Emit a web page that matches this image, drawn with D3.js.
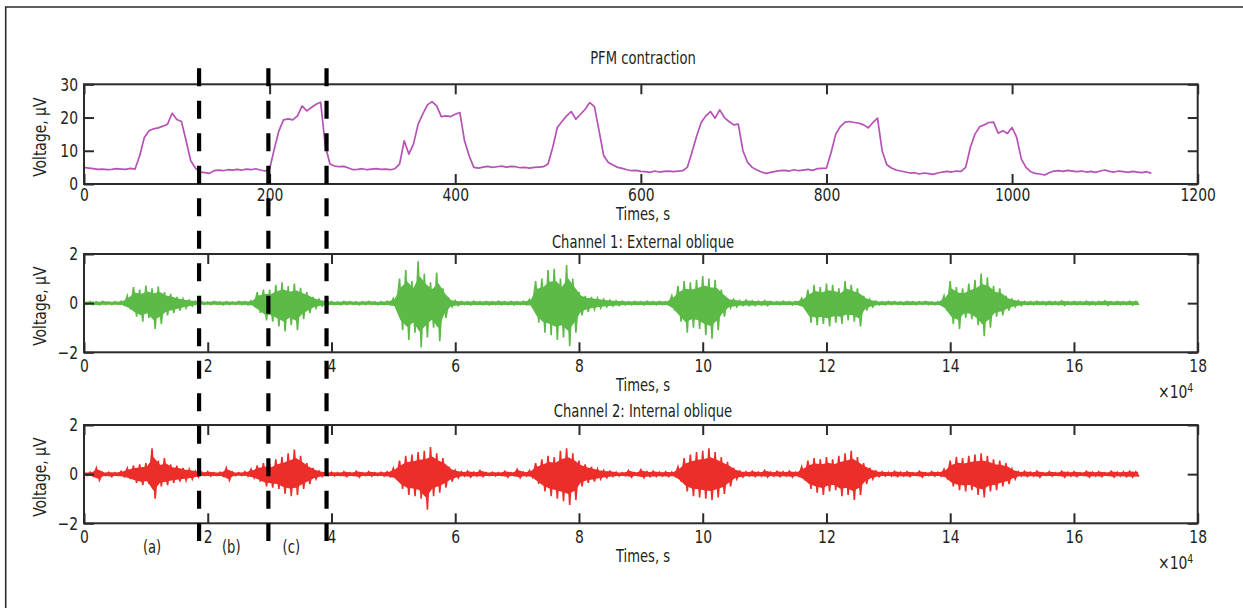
<!DOCTYPE html>
<html>
<head>
<meta charset="utf-8">
<script src="https://cdn.jsdelivr.net/npm/d3@7/dist/d3.min.js"></script>
<style>
  body { margin: 0; background: #fff; }
  svg text {
    font-family: "DejaVu Sans Condensed", "DejaVu Sans", sans-serif;
    font-stretch: condensed;
    fill: #231f20;
  }
</style>
</head>
<body>
<svg id="chart" width="1243" height="608"></svg>
<script>
// PFM contraction, voltage (uV) every 5 s from 0 to 1150 s
const pfmStep = 5;
const pfmVolt = [
  5.0, 4.8, 4.6, 4.4, 4.5, 4.3, 4.4, 4.6, 4.5, 4.4,
  4.7, 4.5, 8.5, 14.0, 16.0, 16.6, 16.9, 17.4, 18.0, 21.3,
  19.4, 18.8, 13.0, 7.0, 4.8, 3.6, 3.4, 3.2, 4.0, 4.2,
  4.0, 4.3, 4.2, 4.4, 4.2, 4.5, 4.3, 4.6, 4.2, 3.9,
  4.5, 10.5, 16.0, 19.3, 19.6, 19.3, 20.5, 23.5, 22.0, 23.0,
  24.0, 24.6, 11.5, 6.0, 5.4, 5.2, 5.3, 4.8, 4.3, 4.4,
  4.6, 4.3, 4.5, 4.6, 4.4, 4.5, 4.3, 4.6, 6.0, 13.0,
  9.0, 12.0, 18.0, 21.0, 23.8, 24.8, 23.5, 20.3, 20.5, 20.3,
  21.0, 21.5, 13.0, 8.5, 5.0, 4.8, 5.1, 5.3, 5.0, 5.2,
  5.4, 5.1, 5.3, 5.2, 4.9, 5.0, 4.8, 5.0, 5.1, 5.2,
  6.0, 11.0, 17.0, 18.8, 20.5, 21.8, 19.5, 21.0, 22.5, 24.5,
  23.3, 16.0, 8.5, 6.5, 5.7, 5.0, 4.7, 4.3, 4.0, 4.1,
  3.8, 3.7, 3.5, 3.9, 3.6, 3.8, 3.9, 3.7, 3.9, 4.0,
  5.0, 9.5, 14.3, 18.5, 20.5, 21.8, 19.8, 22.3, 20.0, 18.8,
  17.8, 18.0, 10.0, 6.5, 5.0, 4.2, 3.6, 3.2, 3.5, 3.8,
  4.0, 4.1, 3.9, 4.3, 4.0, 4.2, 4.4, 4.1, 4.6, 4.7,
  4.8, 9.5, 15.0, 17.3, 18.6, 18.8, 18.5, 18.3, 17.8, 16.9,
  18.5, 19.8, 10.0, 5.8, 4.8, 4.2, 3.9, 3.6, 3.3, 3.4,
  3.0, 3.3, 3.1, 2.9, 3.3, 3.6, 3.8, 3.6, 3.9, 3.8,
  5.0, 11.0, 15.0, 17.2, 17.8, 18.5, 18.6, 15.3, 16.0, 15.2,
  17.0, 14.0, 7.5, 5.0, 3.7, 3.2, 3.0, 2.7, 3.4, 3.9,
  4.0, 3.8, 4.1, 3.9, 3.7, 3.9, 3.6, 3.8, 3.5, 3.9,
  4.2, 3.8, 3.6, 3.9, 3.7, 3.5, 3.8, 3.6, 3.4, 3.7,
  3.2
];

// EMG envelopes (max / min per 0.1 x10^4 bin, 0.0 .. 17.0)
const emgStep = 0.1;
const ch1Max = [
  0.05, 0.06, 0.05, 0.07, 0.05, 0.06, 0.08, 0.30, 0.65, 0.55,
  0.72, 0.60, 0.68, 0.45, 0.38, 0.25, 0.18, 0.12, 0.08, 0.06,
  0.05, 0.07, 0.05, 0.06, 0.05, 0.07, 0.06, 0.10, 0.45, 0.55,
  0.55, 0.75, 0.85, 0.70, 0.80, 0.62, 0.45, 0.25, 0.15, 0.08,
  0.06, 0.05, 0.07, 0.06, 0.05, 0.06, 0.07, 0.05, 0.06, 0.08,
  0.20, 1.00, 1.35, 0.90, 1.70, 1.20, 0.85, 1.25, 0.60, 0.15,
  0.10, 0.07, 0.06, 0.08, 0.06, 0.07, 0.06, 0.08, 0.06, 0.07,
  0.06, 0.08, 0.15, 0.90, 1.00, 1.35, 1.40, 1.00, 1.55, 1.00,
  0.45, 0.30, 0.25, 0.20, 0.15, 0.12, 0.10, 0.08, 0.06, 0.07,
  0.06, 0.08, 0.06, 0.07, 0.06, 0.30, 0.70, 0.90, 0.85, 0.95,
  1.10, 1.00, 0.95, 0.55, 0.20, 0.15, 0.10, 0.12, 0.10, 0.08,
  0.10, 0.07, 0.06, 0.08, 0.06, 0.07, 0.20, 0.55, 0.75, 0.65,
  0.80, 0.75, 0.60, 0.90, 0.75, 0.60, 0.30, 0.15, 0.08, 0.06,
  0.07, 0.06, 0.05, 0.07, 0.06, 0.06, 0.07, 0.05, 0.06, 0.30,
  0.90, 0.65, 0.60, 0.80, 0.95, 1.20, 1.05, 0.70, 0.60, 0.30,
  0.15, 0.10, 0.07, 0.06, 0.08, 0.06, 0.07, 0.06, 0.09, 0.06,
  0.07, 0.06, 0.08, 0.06, 0.07, 0.09, 0.06, 0.07, 0.06, 0.08,
  0.07
];
const ch1Min = [
  -0.05, -0.06, -0.07, -0.05, -0.06, -0.05, -0.08, -0.25, -0.55, -0.75,
  -0.60, -1.05, -0.85, -0.50, -0.40, -0.30, -0.20, -0.12, -0.08, -0.05,
  -0.06, -0.05, -0.07, -0.06, -0.05, -0.06, -0.07, -0.10, -0.40, -0.70,
  -0.75, -0.95, -1.15, -0.90, -1.10, -0.65, -0.40, -0.20, -0.12, -0.08,
  -0.05, -0.07, -0.06, -0.05, -0.07, -0.06, -0.05, -0.07, -0.06, -0.07,
  -0.15, -1.10, -1.50, -1.20, -1.80, -1.40, -1.00, -1.55, -0.60, -0.15,
  -0.10, -0.06, -0.08, -0.06, -0.07, -0.08, -0.06, -0.07, -0.06, -0.08,
  -0.06, -0.07, -0.10, -0.80, -1.20, -1.30, -1.50, -1.40, -1.75, -1.20,
  -0.50, -0.35, -0.25, -0.20, -0.15, -0.12, -0.10, -0.08, -0.07, -0.06,
  -0.08, -0.06, -0.07, -0.06, -0.07, -0.30, -0.75, -1.20, -1.00, -1.05,
  -1.30, -1.45, -1.10, -0.55, -0.20, -0.15, -0.10, -0.10, -0.10, -0.08,
  -0.10, -0.06, -0.07, -0.06, -0.08, -0.06, -0.20, -0.80, -0.90, -0.85,
  -0.95, -0.80, -0.85, -0.70, -0.75, -0.95, -0.30, -0.15, -0.08, -0.07,
  -0.06, -0.05, -0.07, -0.06, -0.07, -0.05, -0.06, -0.07, -0.06, -0.30,
  -0.85, -1.05, -0.60, -0.65, -0.90, -1.35, -1.00, -0.55, -0.50, -0.30,
  -0.15, -0.10, -0.06, -0.07, -0.06, -0.08, -0.06, -0.07, -0.09, -0.06,
  -0.07, -0.06, -0.08, -0.07, -0.06, -0.09, -0.06, -0.07, -0.06, -0.08,
  -0.07
];
const ch2Max = [
  0.06, 0.08, 0.25, 0.06, 0.08, 0.06, 0.12, 0.25, 0.35, 0.40,
  0.45, 1.05, 0.55, 0.65, 0.40, 0.35, 0.25, 0.20, 0.12, 0.08,
  0.10, 0.06, 0.08, 0.25, 0.08, 0.06, 0.10, 0.20, 0.35, 0.45,
  0.40, 0.60, 0.70, 0.85, 1.00, 0.75, 0.45, 0.25, 0.12, 0.06,
  0.08, 0.06, 0.10, 0.06, 0.12, 0.06, 0.10, 0.06, 0.08, 0.10,
  0.25, 0.55, 0.75, 0.80, 0.90, 0.95, 1.10, 0.85, 0.65, 0.30,
  0.15, 0.10, 0.12, 0.08, 0.15, 0.06, 0.08, 0.06, 0.12, 0.06,
  0.20, 0.08, 0.15, 0.45, 0.60, 0.75, 0.70, 0.95, 1.05, 0.85,
  0.55, 0.40, 0.30, 0.20, 0.15, 0.12, 0.08, 0.06, 0.15, 0.06,
  0.18, 0.10, 0.12, 0.08, 0.10, 0.08, 0.30, 0.65, 0.80, 0.90,
  0.95, 1.05, 0.90, 0.70, 0.50, 0.25, 0.12, 0.10, 0.12, 0.08,
  0.15, 0.08, 0.12, 0.10, 0.12, 0.08, 0.30, 0.55, 0.65, 0.60,
  0.70, 0.60, 0.75, 0.85, 0.95, 0.70, 0.45, 0.25, 0.12, 0.10,
  0.08, 0.12, 0.08, 0.10, 0.06, 0.12, 0.06, 0.10, 0.08, 0.20,
  0.55, 0.70, 0.65, 0.75, 0.80, 0.85, 0.75, 0.60, 0.55, 0.45,
  0.20, 0.10, 0.12, 0.08, 0.12, 0.06, 0.10, 0.06, 0.12, 0.08,
  0.10, 0.06, 0.12, 0.08, 0.10, 0.06, 0.12, 0.08, 0.10, 0.12,
  0.10
];
const ch2Min = [
  -0.06, -0.08, -0.25, -0.06, -0.10, -0.06, -0.10, -0.20, -0.35, -0.45,
  -0.40, -1.00, -0.50, -0.45, -0.35, -0.30, -0.25, -0.20, -0.12, -0.06,
  -0.08, -0.06, -0.08, -0.25, -0.06, -0.06, -0.08, -0.15, -0.30, -0.50,
  -0.55, -0.60, -0.80, -0.90, -0.85, -0.60, -0.40, -0.20, -0.10, -0.06,
  -0.08, -0.06, -0.10, -0.06, -0.12, -0.06, -0.08, -0.06, -0.08, -0.10,
  -0.20, -0.60, -0.85, -0.90, -1.00, -1.45, -0.90, -0.75, -0.55, -0.30,
  -0.15, -0.08, -0.12, -0.08, -0.10, -0.06, -0.08, -0.06, -0.12, -0.06,
  -0.15, -0.08, -0.12, -0.40, -0.70, -0.90, -1.00, -1.10, -1.25, -1.05,
  -0.50, -0.35, -0.30, -0.20, -0.15, -0.10, -0.08, -0.06, -0.12, -0.06,
  -0.15, -0.10, -0.10, -0.08, -0.10, -0.08, -0.30, -0.70, -0.90, -0.95,
  -1.00, -1.05, -0.95, -0.80, -0.50, -0.20, -0.12, -0.08, -0.10, -0.08,
  -0.12, -0.08, -0.10, -0.08, -0.12, -0.08, -0.25, -0.60, -0.75, -0.85,
  -0.70, -0.65, -0.90, -0.85, -1.05, -0.85, -0.40, -0.20, -0.10, -0.08,
  -0.08, -0.10, -0.08, -0.10, -0.06, -0.12, -0.06, -0.08, -0.08, -0.15,
  -0.50, -0.65, -0.70, -0.65, -0.85, -0.95, -0.70, -0.65, -0.50, -0.40,
  -0.20, -0.08, -0.10, -0.08, -0.12, -0.06, -0.08, -0.06, -0.12, -0.08,
  -0.10, -0.06, -0.12, -0.08, -0.10, -0.06, -0.12, -0.08, -0.10, -0.12,
  -0.10
];

// segment boundaries (x10^4 samples) and their labels
const markerTimes = [1.86, 2.98, 3.92];
const segLabels = ['(a)', '(b)', '(c)'];

const pfmTicksX = [0, 200, 400, 600, 800, 1000, 1200];
const pfmTicksY = [0, 10, 20, 30];
const emgTicksX = [0, 2, 4, 6, 8, 10, 12, 14, 16, 18];
const emgTicksY = [-2, 0, 2];

// ---- layout ----
const svg = d3.select('#chart');
const plotLeft = 84, plotRight = 1197.7;
const ink = '#2b2b2b';
const narrow = 0.86;   // squeeze the DejaVu glyphs towards the narrow original face
const coreShare = 0.62; // share of each bin's swing drawn as a solid core

// text helper: anchored at (x, y), horizontally narrowed
const addText = (parent, x, y, str, size, anchor = 'middle', rot = 0) =>
  parent.append('text')
    .attr('transform', `translate(${x},${y}) rotate(${rot}) scale(${narrow},1)`)
    .attr('dy', '0.35em')
    .attr('text-anchor', anchor)
    .style('font-size', size + 'px')
    .text(str);

svg.append('path')
  .attr('d', 'M5.7,608 L5.7,7 L1243,7')
  .attr('fill', 'none')
  .attr('stroke', ink)
  .attr('stroke-width', 1.6);

const xPfm = d3.scaleLinear().domain([0, 1200]).range([plotLeft, plotRight]);
const xEmg = d3.scaleLinear().domain([0, 18]).range([plotLeft, plotRight]);

const panels = [
  { top: 84.3, bottom: 184, x: xPfm, yDomain: [0, 30], xTicks: pfmTicksX, yTicks: pfmTicksY,
    title: 'PFM contraction', titleOff: 26, xlabelOff: 30, pad: 4, exp: false },
  { top: 254, bottom: 352.3, x: xEmg, yDomain: [-2, 2], xTicks: emgTicksX, yTicks: emgTicksY,
    title: 'Channel 1: External oblique', titleOff: 12, xlabelOff: 33, pad: 7, exp: true },
  { top: 425, bottom: 523.3, x: xEmg, yDomain: [-2, 2], xTicks: emgTicksX, yTicks: emgTicksY,
    title: 'Channel 2: Internal oblique', titleOff: 14, xlabelOff: 33, pad: 7, exp: true }
];
panels.forEach(p => {
  p.y = d3.scaleLinear().domain(p.yDomain).range([p.bottom, p.top]);
});

// ---- signals ----
const pPfm = panels[0];
svg.append('path')
  .datum(pfmVolt)
  .attr('fill', 'none')
  .attr('stroke', '#b652b6')
  .attr('stroke-width', 1.7)
  .attr('stroke-linejoin', 'round')
  .attr('d', d3.line()
    .x((d, i) => xPfm(i * pfmStep))
    .y(d => pPfm.y(d)));

// EMG: solid core band plus an oscillation swinging between each bin's max and min
const drawEmg = (p, maxArr, minArr, color) => {
  let g = svg.append('g');

  g.append('path')
    .datum(maxArr)
    .attr('fill', color)
    .attr('stroke', color)
    .attr('stroke-width', 1.5)
    .attr('d', d3.area()
      .x((d, i) => xEmg((i + 0.25) * emgStep))
      .y0((d, i) => p.y(minArr[i] * coreShare))
      .y1(d => p.y(d * coreShare)));

  let pts = [];
  maxArr.forEach((d, i) => {
    pts.push([i * emgStep, d]);
    pts.push([(i + 0.5) * emgStep, minArr[i]]);
  });
  g.append('path')
    .datum(pts)
    .attr('fill', 'none')
    .attr('stroke', color)
    .attr('stroke-width', 1.6)
    .attr('stroke-linejoin', 'miter')
    .attr('d', d3.line()
      .x(d => xEmg(d[0]))
      .y(d => p.y(d[1])));
};
drawEmg(panels[1], ch1Max, ch1Min, '#5cba47');
drawEmg(panels[2], ch2Max, ch2Min, '#ec2e2a');

// ---- frames, ticks, labels ----
panels.forEach(p => {
  let g = svg.append('g');

  g.append('rect')
    .attr('x', plotLeft)
    .attr('y', p.top)
    .attr('width', plotRight - plotLeft)
    .attr('height', p.bottom - p.top)
    .attr('fill', 'none')
    .attr('stroke', ink)
    .attr('stroke-width', 2);

  let fmt = d => d < 0 ? '\u2212' + Math.abs(d) : String(d);

  let bottomAxis = g.append('g')
    .attr('transform', `translate(0,${p.bottom})`)
    .call(d3.axisBottom(p.x).tickValues(p.xTicks).tickSizeInner(-10).tickSizeOuter(0)
      .tickPadding(p.pad).tickFormat(fmt));
  let topAxis = g.append('g')
    .attr('transform', `translate(0,${p.top})`)
    .call(d3.axisTop(p.x).tickValues(p.xTicks).tickSizeInner(-10).tickSizeOuter(0).tickFormat(''));
  let leftAxis = g.append('g')
    .attr('transform', `translate(${plotLeft},0)`)
    .call(d3.axisLeft(p.y).tickValues(p.yTicks).tickSizeInner(-10).tickSizeOuter(0)
      .tickPadding(7).tickFormat(fmt));
  let rightAxis = g.append('g')
    .attr('transform', `translate(${plotRight},0)`)
    .call(d3.axisRight(p.y).tickValues(p.yTicks).tickSizeInner(-10).tickSizeOuter(0).tickFormat(''));

  [bottomAxis, topAxis, leftAxis, rightAxis].forEach(a => {
    a.select('.domain').remove();
    a.selectAll('.tick line').attr('stroke', ink).attr('stroke-width', 2);
    a.selectAll('.tick text')
      .attr('transform', `scale(${narrow},1)`)
      .style('font-size', '18px')
      .attr('fill', '#231f20');
  });

  addText(g, 643, p.top - p.titleOff, p.title, 17);
  addText(g, 643, p.bottom + p.xlabelOff, 'Times, s', 17);
  addText(g, 40, (p.top + p.bottom) / 2 + 3, 'Voltage, \u03bcV', 18, 'middle', -90);

  if (p.exp) {
    let t = addText(g, 1158, p.bottom + 39, '\u00d710', 18, 'start');
    t.append('tspan').attr('dy', '-0.45em').style('font-size', '12px').text('4');
  }
});

// ---- segment markers ----
svg.append('g')
  .selectAll('line')
  .data(markerTimes)
  .join('line')
  .attr('x1', d => xEmg(d))
  .attr('x2', d => xEmg(d))
  .attr('y1', 68.3)
  .attr('y2', 541)
  .attr('stroke', '#000')
  .attr('stroke-width', 4.2)
  .attr('stroke-dasharray', '18,14.5');

// segment names under the bottom panel
const segLabelX = [1.1, 2.38, 3.35];
const segG = svg.append('g');
segLabels.forEach((d, i) => addText(segG, xEmg(segLabelX[i]), 547, d, 17));
</script>
</body>
</html>
